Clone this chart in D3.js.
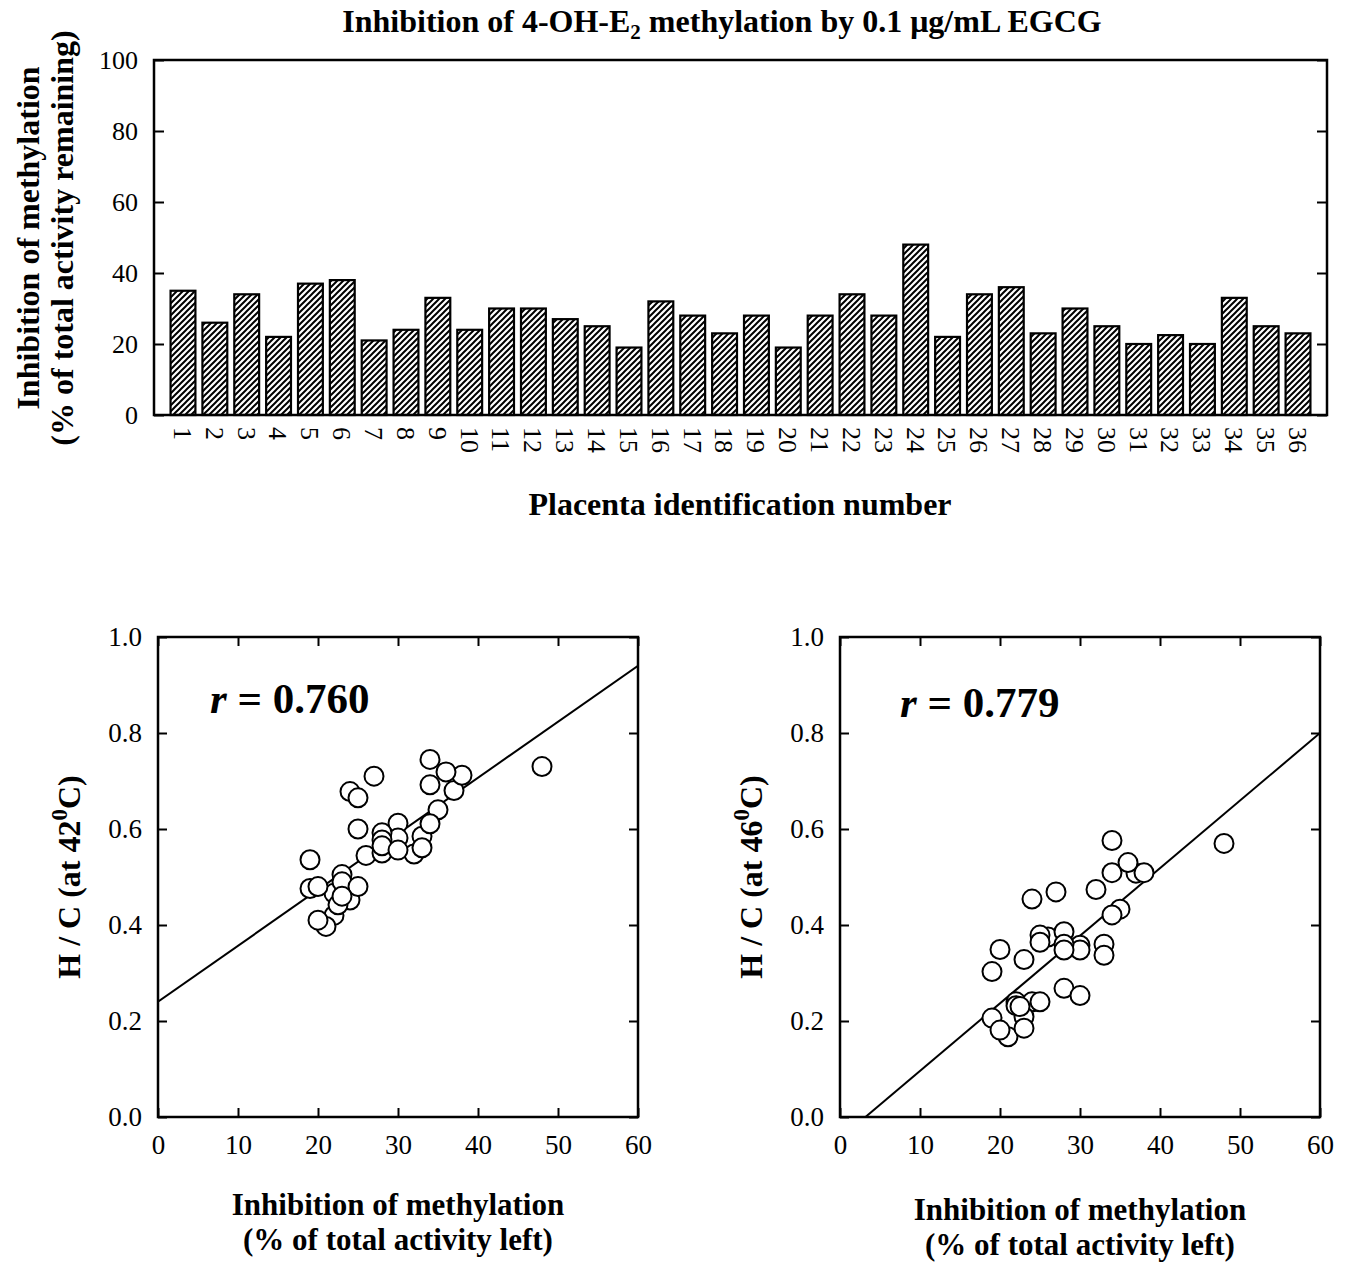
<!DOCTYPE html>
<html>
<head>
<meta charset="utf-8">
<script src="https://cdn.jsdelivr.net/npm/d3@7"></script>
<style>
  body { margin: 0; background: #fff; }
  svg { display: block; font-family: "Liberation Serif", "Times New Roman", serif; }
  .tick text { font-family: "Liberation Serif", "Times New Roman", serif; fill: #000; }
  .bar-axis .tick text { font-size: 26px; }
  .sc-axis .tick text { font-size: 27px; }
  .domain { display: none; }
  .tick line { stroke: #000; stroke-width: 2; }
  .label { font-weight: bold; fill: #000; }
</style>
</head>
<body>
<svg width="1345" height="1266"></svg>
<script>
"use strict";

// placenta ids and % activity remaining with EGCG
const placentaIds = [1, 2, 3, 4, 5, 6, 7, 8, 9, 10, 11, 12, 13, 14, 15, 16, 17, 18,
  19, 20, 21, 22, 23, 24, 25, 26, 27, 28, 29, 30, 31, 32, 33, 34, 35, 36];
const inhibition = [35, 26, 34, 22, 37, 38, 21, 24, 33, 24, 30, 30, 27, 25, 19, 32, 28, 23,
  28, 19, 28, 34, 28, 48, 22, 34, 36, 23, 30, 25, 20, 22.5, 20, 33, 25, 23];

// H/C ratio per placenta
const hcAt42 = [0.64, 0.545, 0.745, 0.42, 0.68, 0.712, 0.397, 0.678, 0.585, 0.452, 0.612, 0.581,
  0.71, 0.665, 0.536, 0.548, 0.592, 0.505, 0.577, 0.476, 0.55, 0.692, 0.565, 0.73,
  0.466, 0.611, 0.719, 0.49, 0.556, 0.6, 0.48, 0.442, 0.41, 0.561, 0.48, 0.46];
const hcAt46 = [0.433, 0.375, 0.576, 0.24, 0.508, 0.509, 0.167, 0.454, 0.36, 0.24, 0.358, 0.348,
  0.469, 0.379, 0.303, 0.474, 0.386, 0.328, 0.36, 0.206, 0.348, 0.509, 0.268, 0.57,
  0.232, 0.421, 0.53, 0.209, 0.253, 0.364, 0.349, 0.23, 0.181, 0.337, 0.24, 0.185];

// regression lines: [intercept, slope]
const fit42 = [0.24, 0.01167];
const fit46 = [-0.0448, 0.01408];
const rValues = ["0.760", "0.779"];

const barTicks = [0, 20, 40, 60, 80, 100];
const scatterXTicks = [0, 10, 20, 30, 40, 50, 60];
const scatterYTicks = [0, 0.2, 0.4, 0.6, 0.8, 1.0];

const svg = d3.select("svg");

// ---------- bar chart ----------
const bar = { left: 154, right: 1327, top: 60, bottom: 415 };

const xBand = d3.scaleBand()
  .domain(placentaIds)
  .range([bar.left, bar.right])
  .paddingInner(0.22)
  .paddingOuter(0.52);

const yBar = d3.scaleLinear().domain([0, 100]).range([bar.bottom, bar.top]);

const defs = svg.append("defs");
defs.append("pattern")
  .attr("id", "hatch")
  .attr("patternUnits", "userSpaceOnUse")
  .attr("width", 6)
  .attr("height", 6)
  .append("path")
  .attr("d", "M-1,1 l2,-2 M0,6 l6,-6 M5,7 l2,-2")
  .attr("stroke", "#000")
  .attr("stroke-width", 2);

svg.append("g")
  .selectAll("rect")
  .data(placentaIds)
  .enter()
  .append("rect")
  .attr("x", d => xBand(d))
  .attr("width", xBand.bandwidth())
  .attr("y", (d, i) => yBar(inhibition[i]))
  .attr("height", (d, i) => yBar(0) - yBar(inhibition[i]))
  .attr("fill", "url(#hatch)")
  .attr("stroke", "#000")
  .attr("stroke-width", 2.2);

svg.append("g")
  .attr("class", "bar-axis")
  .attr("transform", `translate(${bar.left},0)`)
  .call(d3.axisLeft(yBar).tickValues(barTicks).tickSize(-10).tickPadding(16));

svg.append("g")
  .attr("class", "bar-axis")
  .attr("transform", `translate(${bar.right},0)`)
  .call(d3.axisRight(yBar).tickValues(barTicks).tickSize(-10).tickFormat(""));

const xBarAxis = svg.append("g")
  .attr("class", "bar-axis")
  .attr("transform", `translate(0,${bar.bottom})`)
  .call(d3.axisBottom(xBand).tickSize(0));

xBarAxis.selectAll(".tick text")
  .attr("transform", "rotate(90)")
  .attr("x", 12)
  .attr("y", 0)
  .attr("dy", "0.35em")
  .style("text-anchor", "start");

svg.append("rect")
  .attr("x", bar.left)
  .attr("y", bar.top)
  .attr("width", bar.right - bar.left)
  .attr("height", bar.bottom - bar.top)
  .attr("fill", "none")
  .attr("stroke", "#000")
  .attr("stroke-width", 2.5);

const title = svg.append("text")
  .attr("class", "label")
  .attr("x", 722)
  .attr("y", 32)
  .attr("text-anchor", "middle")
  .style("font-size", "32px");
title.append("tspan").text("Inhibition of 4-OH-E");
title.append("tspan").attr("dy", 7).style("font-size", "21px").text("2");
title.append("tspan").attr("dy", -7).text(" methylation by 0.1 \u03bcg/mL EGCG");

const barYLabel = svg.append("text")
  .attr("class", "label")
  .attr("transform", "translate(39,238) rotate(-90)")
  .attr("text-anchor", "middle")
  .style("font-size", "32px");
barYLabel.append("tspan").attr("x", 0).attr("y", 0).text("Inhibition of methylation");
barYLabel.append("tspan").attr("x", 0).attr("y", 34).text("(% of total activity remaining)");

svg.append("text")
  .attr("class", "label")
  .attr("x", 740)
  .attr("y", 515)
  .attr("text-anchor", "middle")
  .style("font-size", "32px")
  .text("Placenta identification number");

// ---------- scatter panels ----------
const drawScatter = (p) => {
  const xs = d3.scaleLinear().domain([0, 60]).range([p.left, p.left + 480]);
  const ys = d3.scaleLinear().domain([0, 1]).range([p.top + 480, p.top]);
  const g = svg.append("g");

  g.append("clipPath").attr("id", p.id + "-clip")
    .append("rect")
    .attr("x", p.left).attr("y", p.top).attr("width", 480).attr("height", 480);

  g.append("g").attr("class", "sc-axis").attr("transform", `translate(${p.left},0)`)
    .call(d3.axisLeft(ys).tickValues(scatterYTicks).tickSize(-9).tickPadding(16).tickFormat(d3.format(".1f")));
  g.append("g").attr("class", "sc-axis").attr("transform", `translate(${p.left + 480},0)`)
    .call(d3.axisRight(ys).tickValues(scatterYTicks).tickSize(-9).tickFormat(""));
  g.append("g").attr("class", "sc-axis").attr("transform", `translate(0,${p.top + 480})`)
    .call(d3.axisBottom(xs).tickValues(scatterXTicks).tickSize(-9).tickPadding(18).tickFormat(d3.format("d")));
  g.append("g").attr("class", "sc-axis").attr("transform", `translate(0,${p.top})`)
    .call(d3.axisTop(xs).tickValues(scatterXTicks).tickSize(-9).tickFormat(""));

  const x0 = Math.max(0, -p.fit[0] / p.fit[1]);
  g.append("line")
    .attr("clip-path", `url(#${p.id}-clip)`)
    .attr("x1", xs(x0))
    .attr("y1", ys(p.fit[0] + p.fit[1] * x0))
    .attr("x2", xs(60))
    .attr("y2", ys(p.fit[0] + p.fit[1] * 60))
    .attr("stroke", "#000")
    .attr("stroke-width", 2);

  g.append("g")
    .selectAll("circle")
    .data(p.ys)
    .enter()
    .append("circle")
    .attr("cx", (d, i) => xs(inhibition[i]))
    .attr("cy", d => ys(d))
    .attr("r", 9.5)
    .attr("fill", "#fff")
    .attr("stroke", "#000")
    .attr("stroke-width", 2);

  g.append("rect")
    .attr("x", p.left).attr("y", p.top).attr("width", 480).attr("height", 480)
    .attr("fill", "none").attr("stroke", "#000").attr("stroke-width", 2.5);

  const rText = g.append("text")
    .attr("class", "label")
    .attr("x", p.rx)
    .attr("y", p.ry)
    .style("font-size", "43px");
  rText.append("tspan").style("font-style", "italic").text("r");
  rText.append("tspan").text(" = " + p.r);

  const yl = g.append("text")
    .attr("class", "label")
    .attr("transform", `translate(${p.ylx},877) rotate(-90)`)
    .attr("text-anchor", "middle")
    .style("font-size", "32px");
  yl.append("tspan").text(`H / C (at ${p.temp}`);
  yl.append("tspan").attr("dy", -13).style("font-size", "23px").text("0");
  yl.append("tspan").attr("dy", 13).text("C)");

  const xl = g.append("text")
    .attr("class", "label")
    .attr("text-anchor", "middle")
    .style("font-size", "31px");
  xl.append("tspan").attr("x", p.left + 240).attr("y", p.xly).text("Inhibition of methylation");
  xl.append("tspan").attr("x", p.left + 240).attr("y", p.xly + 35).text("(% of total activity left)");
};

drawScatter({ id: "p42", left: 158, top: 637, ys: hcAt42, fit: fit42, r: rValues[0],
  rx: 210, ry: 713, ylx: 80, temp: "42", xly: 1215 });
drawScatter({ id: "p46", left: 840, top: 637, ys: hcAt46, fit: fit46, r: rValues[1],
  rx: 900, ry: 717, ylx: 762, temp: "46", xly: 1220 });
</script>
</body>
</html>
